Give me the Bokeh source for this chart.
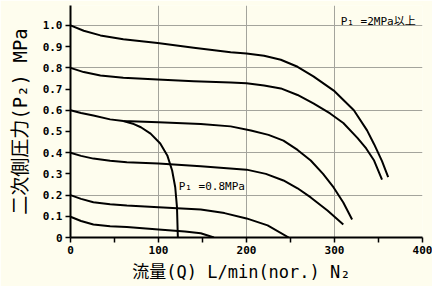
from bokeh.plotting import figure
from bokeh.models import FixedTicker, Range1d, Label
from bokeh.embed import file_html
from bokeh.resources import INLINE

# Curves: secondary pressure P2 (MPa) vs flow Q (L/min nor.), P1 = 2 MPa or more
q_10 = [0, 15, 34, 60, 99, 140, 182, 200, 220, 239, 258, 276, 300, 322, 337, 345, 354, 361]
p_10 = [1.0, 0.975, 0.953, 0.935, 0.917, 0.895, 0.874, 0.868, 0.857, 0.838, 0.805, 0.76,
        0.69, 0.60, 0.505, 0.44, 0.36, 0.285]

q_08 = [0, 15, 34, 60, 99, 140, 182, 200, 220, 239, 258, 276, 295, 310, 326, 336, 345, 354]
p_08 = [0.80, 0.78, 0.764, 0.753, 0.745, 0.737, 0.731, 0.727, 0.717, 0.703, 0.672, 0.632,
        0.585, 0.54, 0.47, 0.42, 0.363, 0.273]

q_06 = [0, 12, 26, 45, 60, 100, 148, 182, 205, 225, 242, 258, 273, 287, 299, 310, 320]
p_06 = [0.60, 0.587, 0.575, 0.557, 0.549, 0.544, 0.535, 0.524, 0.505, 0.484, 0.457, 0.413,
        0.363, 0.30, 0.236, 0.165, 0.085]

q_04 = [0, 12, 26, 45, 64, 100, 148, 200, 222, 242, 258, 273, 292, 310]
p_04 = [0.40, 0.385, 0.372, 0.362, 0.355, 0.349, 0.336, 0.32, 0.30, 0.269, 0.232, 0.189,
        0.127, 0.061]

q_02 = [0, 12, 26, 45, 64, 100, 148, 175, 200, 224, 248]
p_02 = [0.20, 0.182, 0.166, 0.157, 0.151, 0.143, 0.132, 0.115, 0.09, 0.057, 0.0]

q_01 = [0, 12, 26, 45, 64, 100, 130, 148, 163]
p_01 = [0.098, 0.078, 0.061, 0.053, 0.049, 0.038, 0.028, 0.02, 0.0]

# P1 = 0.8 MPa limit curve
q_p1 = [60, 72, 80, 91, 102, 110, 115.5, 119, 121, 122]
p_p1 = [0.549, 0.535, 0.52, 0.49, 0.443, 0.387, 0.316, 0.237, 0.143, 0.0]

x_ticks = [0, 50, 100, 150, 200, 250, 300, 350, 400]
x_labels = {0: "0", 50: "", 100: "100", 150: "", 200: "200", 250: "", 300: "300", 350: "", 400: "400"}
y_ticks = [0, 0.1, 0.2, 0.3, 0.4, 0.5, 0.6, 0.7, 0.8, 0.9, 1.0]
y_labels = {0: "0", 0.1: "0.1", 0.2: "0.2", 0.3: "0.3", 0.4: "0.4", 0.5: "0.5",
            0.6: "0.6", 0.7: "0.7", 0.8: "0.8", 0.9: "0.9", 1.0: "1.0"}

BG = "#FEFDEE"
MONO = "'DejaVu Sans Mono', 'Noto Sans CJK JP'"

p = figure(width=432, height=286, output_backend="svg", toolbar_location=None,
           x_range=Range1d(0, 400), y_range=Range1d(0, 1.094),
           min_border_left=70, min_border_right=10, min_border_top=5, min_border_bottom=49,
           background_fill_color=BG, border_fill_color=BG)
p.outline_line_color = None

for xs, ys in [(q_10, p_10), (q_08, p_08), (q_06, p_06), (q_04, p_04),
               (q_02, p_02), (q_01, p_01), (q_p1, p_p1)]:
    p.line(xs, ys, line_color="black", line_width=2, line_join="round")

p.xaxis.ticker = FixedTicker(ticks=x_ticks)
p.xaxis.major_label_overrides = x_labels
p.yaxis.ticker = FixedTicker(ticks=y_ticks)
p.yaxis.major_label_overrides = y_labels
p.xgrid.ticker = FixedTicker(ticks=[100, 200, 300, 400])
p.ygrid.ticker = FixedTicker(ticks=[0.2, 0.4, 0.6, 0.8, 1.0])
for g in (p.xgrid, p.ygrid):
    g.grid_line_color = "#A4A49C"
    g.grid_line_width = 1

for ax in (p.xaxis, p.yaxis):
    ax.axis_line_color = "black"
    ax.axis_line_width = 2
    ax.major_tick_line_color = "black"
    ax.major_tick_line_width = 1.5
    ax.major_tick_in = 0
    ax.major_tick_out = 5
    ax.minor_tick_line_color = None
    ax.major_label_standoff = 3
    ax.major_label_text_font = MONO
    ax.major_label_text_font_style = "bold"
    ax.major_label_text_font_size = "11px"
    ax.major_label_text_color = "black"
    ax.axis_label_text_font = MONO
    ax.axis_label_text_font_style = "normal"
    ax.axis_label_text_color = "black"

p.xaxis.axis_label = "流量(Q) L/min(nor.)  N₂"
p.yaxis.axis_label = "二次側圧力(P₂) MPa"
p.xaxis.axis_label_text_font_size = "17px"
p.yaxis.axis_label_text_font_size = "19px"
p.xaxis.axis_label_standoff = 5
p.yaxis.axis_label_standoff = 9

p.add_layout(Label(x=123, y=0.24, text="P₁ =0.8MPa", text_font=MONO,
                   text_font_size="11px", text_baseline="middle", text_color="black"))
p.add_layout(Label(x=307, y=1.02, text="P₁ =2MPa以上", text_font=MONO,
                   text_font_size="11px", text_baseline="middle", text_color="black"))

open("out.html", "w").write(file_html(p, INLINE))
